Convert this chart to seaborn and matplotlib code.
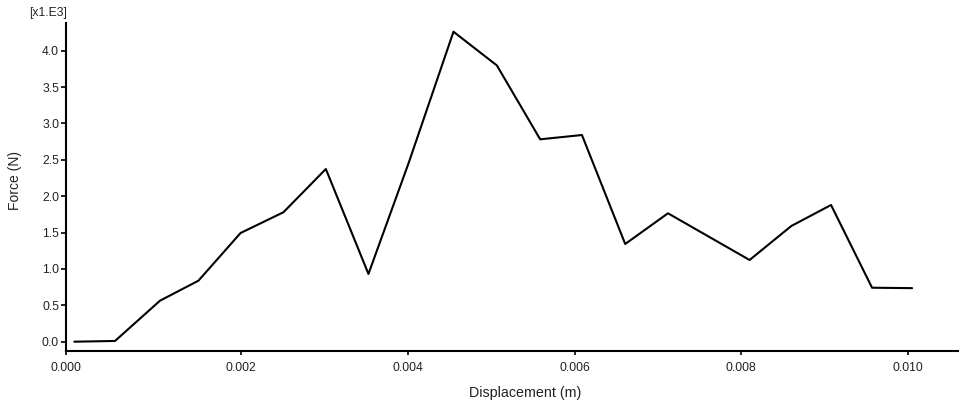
import matplotlib
matplotlib.use("Agg")
import matplotlib.pyplot as plt
import seaborn as sns
import pandas as pd

# Data
displacement_m = [0.0, 0.000488, 0.001028, 0.001488, 0.001994, 0.002508, 0.003017,
                  0.003528, 0.004010, 0.004548, 0.005069, 0.005588, 0.006089, 0.006608,
                  0.007121, 0.008100, 0.008600, 0.009077, 0.009569, 0.010049]
force_kN = [0.0, 0.01, 0.564, 0.838, 1.494, 1.779, 2.374,
            0.931, 2.456, 4.261, 3.797, 2.782, 2.841, 1.343,
            1.765, 1.123, 1.590, 1.879, 0.742, 0.736]

x_tick_pos = [-0.0001, 0.002, 0.004, 0.006, 0.008, 0.010]
x_tick_labels = ["0.000", "0.002", "0.004", "0.006", "0.008", "0.010"]
y_ticks = [0.0, 0.5, 1.0, 1.5, 2.0, 2.5, 3.0, 3.5, 4.0]
y_tick_labels = ["0.0", "0.5", "1.0", "1.5", "2.0", "2.5", "3.0", "3.5", "4.0"]

df = pd.DataFrame({"Displacement (m)": displacement_m, "Force": force_kN})

sns.set_theme(style="ticks")
plt.rcParams["font.family"] = ["Liberation Sans", "DejaVu Sans"]
text_color = "#222222"

fig = plt.figure(figsize=(9.59, 4.08), dpi=100)
ax = fig.add_axes([66 / 959, 1 - 351 / 408, (958 - 66) / 959, (351 - 22.7) / 408])

sns.lineplot(data=df, x="Displacement (m)", y="Force", sort=False, estimator=None,
             color="black", linewidth=1.5, ax=ax)

ax.set_xlim(-0.0001, 0.0106)
ax.set_ylim(-0.128, 4.385)
ax.set_xticks(x_tick_pos)
ax.set_xticklabels(x_tick_labels)
ax.set_yticks(y_ticks)
ax.set_yticklabels(y_tick_labels)

for side in ["top", "right"]:
    ax.spines[side].set_visible(False)
for side in ["left", "bottom"]:
    ax.spines[side].set_linewidth(1.5)
    ax.spines[side].set_color("black")

ax.tick_params(axis="x", length=3, width=1.2, pad=5, labelsize=8.7,
               color="black", labelcolor=text_color)
ax.tick_params(axis="y", length=3.5, width=1.2, pad=1.5, labelsize=8.7,
               color="black", labelcolor=text_color)

ax.set_xlabel("Displacement (m)", fontsize=10.3, color=text_color)
ax.set_ylabel("Force (N)", fontsize=10, color=text_color)
ax.xaxis.set_label_coords(0.5146, -0.128)
ax.xaxis.label.set_va("center")
ax.yaxis.set_label_coords(-0.057, 0.518)
ax.yaxis.label.set_va("center")

fig.text(48 / 959, 1 - 13 / 408, "[x1.E3]", fontsize=8.7, color=text_color,
         ha="center", va="center")

fig.savefig("out.png", dpi=100, facecolor="white")
